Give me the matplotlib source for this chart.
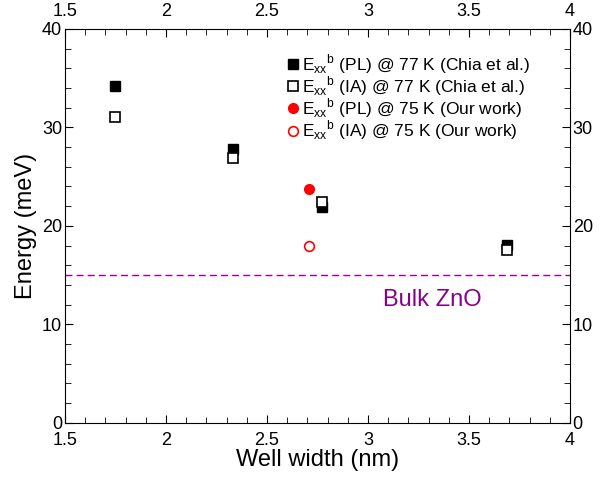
import matplotlib
matplotlib.use("Agg")
import matplotlib.pyplot as plt
from matplotlib.ticker import MultipleLocator

plt.rcParams['font.family'] = ['Liberation Sans', 'DejaVu Sans']
plt.rcParams['mathtext.fontset'] = 'custom'
plt.rcParams['mathtext.rm'] = 'Liberation Sans'

# Chia et al. data
chia_w = [1.75, 2.33, 2.77, 3.69]
chia_pl = [34.2, 27.8, 21.9, 18.1]
chia_ia = [31.0, 26.9, 22.4, 17.5]

# our work
our_w = [2.71]
our_pl = [23.7]
our_ia = [18.0]

bulk_zno = 15.0

fig = plt.figure(figsize=(6.04, 4.8), dpi=100)
ax = fig.add_axes([0.1076, 0.119, 0.836, 0.821])

ax.plot(chia_w, chia_pl, 's', color='black', ms=7, mec='black',
        label=r'E$_{\mathregular{xx}}$$^{\mathregular{b}}$ (PL) @ 77 K (Chia et al.)')
ax.plot(chia_w, chia_ia, 's', color='black', mfc='white', ms=7, mew=1.2,
        label=r'E$_{\mathregular{xx}}$$^{\mathregular{b}}$ (IA) @ 77 K (Chia et al.)')
ax.plot(our_w, our_pl, 'o', color='red', ms=7,
        label=r'E$_{\mathregular{xx}}$$^{\mathregular{b}}$ (PL) @ 75 K (Our work)')
ax.plot(our_w, our_ia, 'o', color='red', mfc='white', ms=7, mew=1.2,
        label=r'E$_{\mathregular{xx}}$$^{\mathregular{b}}$ (IA) @ 75 K (Our work)')

ax.axhline(bulk_zno, color='#990099', ls=(0, (5, 3)), lw=1)
ax.text(3.32, 12.5, 'Bulk ZnO', color='#8B008B', fontsize=17, ha='center', va='center')

ax.set_xlim(1.5, 4)
ax.set_ylim(0, 40)
ax.set_xticks([1.5, 2, 2.5, 3, 3.5, 4])
ax.set_xticklabels(['1.5', '2', '2.5', '3', '3.5', '4'])
ax.set_yticks([0, 10, 20, 30, 40])
ax.xaxis.set_minor_locator(MultipleLocator(0.1))
ax.yaxis.set_minor_locator(MultipleLocator(2))
ax.tick_params(which='both', direction='in', top=True, right=True,
               labeltop=True, labelright=True, labelsize=13)
ax.tick_params(axis='x', which='both', pad=6.5)
ax.tick_params(axis='y', which='both', pad=2)
ax.tick_params(which='major', length=6)
ax.tick_params(which='minor', length=4)
ax.set_xlabel('Well width (nm)', fontsize=17, labelpad=0)
ax.set_ylabel('Energy (meV)', fontsize=17, labelpad=4)

ax.legend(loc='upper right', bbox_to_anchor=(0.945, 0.972), frameon=False, fontsize=12.5,
          handletextpad=0.0, handlelength=1.0, labelspacing=-0.08, borderaxespad=0.3)

fig.savefig('out.png', dpi=100)
